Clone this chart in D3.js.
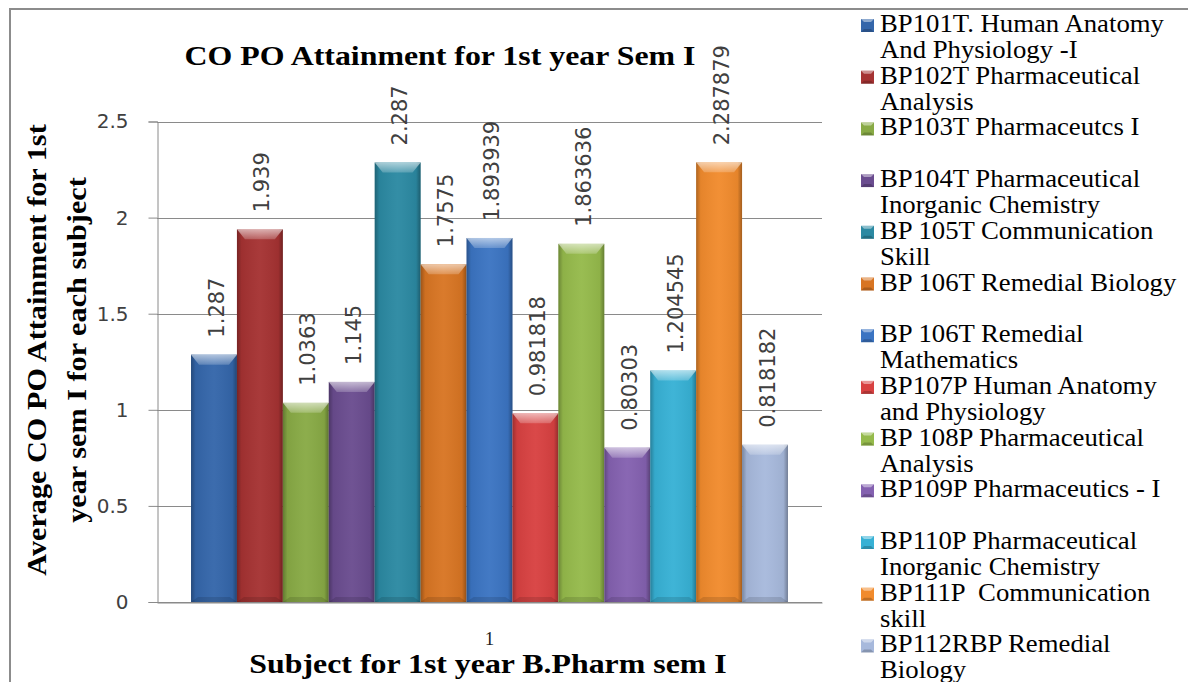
<!DOCTYPE html>
<html>
<head>
<meta charset="utf-8">
<script src="https://cdn.jsdelivr.net/npm/d3@7/dist/d3.min.js"></script>
<style>
  html, body { margin: 0; padding: 0; background: #fff; }
  svg { display: block; }
  .serif { font-family: "Liberation Serif", "Times New Roman", "DejaVu Serif", serif; }
  .sans { font-family: "DejaVu Sans", sans-serif; }
</style>
</head>
<body>
<svg id="chart" width="1188" height="682"></svg>
<script>
// ---------- data ----------
const categories = ["1"];
const subjects = [
  "BP101T. Human Anatomy\nAnd Physiology -I",
  "BP102T Pharmaceutical\nAnalysis",
  "BP103T Pharmaceutcs I",
  "BP104T Pharmaceutical\nInorganic Chemistry",
  "BP 105T Communication\nSkill",
  "BP 106T Remedial Biology",
  "BP 106T Remedial\nMathematics",
  "BP107P Human Anatomy\nand Physiology",
  "BP 108P Pharmaceutical\nAnalysis",
  "BP109P Pharmaceutics - I",
  "BP110P Pharmaceutical\nInorganic Chemistry",
  "BP111P  Communication\nskill",
  "BP112RBP Remedial\nBiology"
];
const values = [1.287, 1.939, 1.0363, 1.145, 2.287, 1.7575, 1.893939, 0.981818, 1.863636, 0.80303, 1.204545, 2.287879, 0.818182];
const valueLabels = ["1.287", "1.939", "1.0363", "1.145", "2.287", "1.7575", "1.893939", "0.981818", "1.863636", "0.80303", "1.204545", "2.287879", "0.818182"];
const colors = ["#3466aa", "#a53232", "#88aa45", "#6a4c8f", "#2b89a2", "#d87523", "#3b74c2", "#d84141", "#95ba4b", "#8461b0", "#37b1d5", "#f18b2d", "#a7b9dc"];
const yTicks = [0, 0.5, 1, 1.5, 2, 2.5];
const yTickLabels = ["0", "0.5", "1", "1.5", "2", "2.5"];
const title = "CO PO Attainment for 1st year Sem I";
const yTitle = ["Average CO PO Attainment for 1st", "year sem I for each subject"];
const xTitle = "Subject for 1st year B.Pharm sem I";

// ---------- layout ----------
const svg = d3.select("#chart");
const plot = { left: 157, right: 822, top: 121.5, bottom: 602 };

const defs = svg.append("defs");
const edge = defs.append("linearGradient").attr("id", "edge").attr("x1", 0).attr("x2", 1).attr("y1", 0).attr("y2", 0);
edge.append("stop").attr("offset", "0").attr("stop-color", "#000").attr("stop-opacity", 0.28);
edge.append("stop").attr("offset", "0.1").attr("stop-color", "#000").attr("stop-opacity", 0.05);
edge.append("stop").attr("offset", "0.5").attr("stop-color", "#fff").attr("stop-opacity", 0.04);
edge.append("stop").attr("offset", "0.9").attr("stop-color", "#000").attr("stop-opacity", 0.05);
edge.append("stop").attr("offset", "1").attr("stop-color", "#000").attr("stop-opacity", 0.32);

const bevelG = defs.append("linearGradient").attr("id", "bevel").attr("x1", 0).attr("x2", 0).attr("y1", 0).attr("y2", 1);
bevelG.append("stop").attr("offset", "0").attr("stop-color", "#fff").attr("stop-opacity", 0.6);
bevelG.append("stop").attr("offset", "1").attr("stop-color", "#fff").attr("stop-opacity", 0.2);

// outer border
svg.append("rect")
  .attr("x", 10).attr("y", 9).attr("width", 1250).attr("height", 720)
  .attr("fill", "none").attr("stroke", "#8c8c8c").attr("stroke-width", 2);

// scales
const y = d3.scaleLinear().domain([0, 2.5]).range([plot.bottom, plot.top]);
const x0 = d3.scaleBand().domain(categories).range([plot.left, plot.right]).paddingInner(0).paddingOuter(0.057);
const x1 = d3.scaleBand().domain(d3.range(subjects.length)).range([0, x0.bandwidth()]).padding(0);

// gridlines
svg.append("g").selectAll("line").data(yTicks).join("line")
  .attr("x1", plot.left).attr("x2", plot.right)
  .attr("y1", d => Math.round(y(d)) + 0.5).attr("y2", d => Math.round(y(d)) + 0.5)
  .attr("stroke", "#8a8a8a").attr("stroke-width", 1);

// y axis
const yAxis = d3.axisLeft(y).tickValues(yTicks).tickSize(9).tickPadding(20)
  .tickFormat((d, i) => yTickLabels[i]);
const gy = svg.append("g").attr("transform", `translate(${plot.left + 0.5},0)`).call(yAxis);
gy.attr("font-family", null).attr("font-size", null);
gy.select(".domain").attr("stroke", "#8a8a8a");
gy.selectAll(".tick line").attr("stroke", "#8a8a8a");
gy.selectAll(".tick text").attr("class", "sans").attr("font-size", 20).attr("fill", "#404040");

// x axis
const xAxis = d3.axisBottom(x0).tickSize(0).tickPadding(29);
const gx = svg.append("g").attr("transform", `translate(0,${plot.bottom + 0.5})`).call(xAxis);
gx.attr("font-family", null).attr("font-size", null);
gx.select(".domain").attr("stroke", "#8a8a8a");
gx.selectAll(".tick text").attr("class", "serif").attr("font-size", 19).attr("fill", "#222");

// bars
const barData = values.map((v, i) => ({ v, i, cat: categories[0] }));
const bars = svg.append("g").selectAll("g").data(barData).join("g")
  .attr("transform", d => `translate(${x0(d.cat) + x1(d.i)},0)`);
const bw = x1.bandwidth();
bars.append("rect")
  .attr("x", 0).attr("width", bw)
  .attr("y", d => y(d.v)).attr("height", d => y(0) - y(d.v))
  .attr("fill", d => colors[d.i]);
bars.append("rect")
  .attr("x", 0).attr("width", bw)
  .attr("y", d => y(d.v)).attr("height", d => y(0) - y(d.v))
  .attr("fill", "url(#edge)");
// top bevel
bars.append("path")
  .attr("d", d => {
    const t = y(d.v);
    return `M0,${t}L${bw},${t}L${bw - 8},${t + 10}L8,${t + 10}Z`;
  })
  .attr("fill", "url(#bevel)");
// bottom shade
bars.append("path")
  .attr("d", d => `M7,${y(0) - 5}L${bw - 7},${y(0) - 5}L${bw},${y(0)}L0,${y(0)}Z`)
  .attr("fill", "#000").attr("fill-opacity", 0.12);

// value labels
bars.append("text")
  .attr("class", "sans")
  .attr("transform", d => `translate(${bw / 2 + 2},${y(d.v) - 17}) rotate(-90)`)
  .attr("dy", "0.36em")
  .attr("text-anchor", "start")
  .attr("font-size", 21).attr("fill", "#404040")
  .text(d => valueLabels[d.i]);

// title
svg.append("text")
  .attr("class", "serif")
  .attr("transform", "translate(440,65) scale(1.18,1)")
  .attr("text-anchor", "middle")
  .attr("font-weight", "bold").attr("font-size", 27)
  .attr("fill", "#000")
  .text(title);

// y title
const yt = svg.append("text")
  .attr("class", "serif")
  .attr("transform", "translate(0,350) rotate(-90) scale(1.12,1)")
  .attr("text-anchor", "middle")
  .attr("font-weight", "bold").attr("font-size", 27)
  .attr("fill", "#000");
yTitle.forEach((line, i) => {
  yt.append("tspan").attr("x", 0).attr("y", 46 + i * 40).text(line);
});

// x title
svg.append("text")
  .attr("class", "serif")
  .attr("transform", "translate(488,673) scale(1.18,1)")
  .attr("text-anchor", "middle")
  .attr("font-weight", "bold").attr("font-size", 27)
  .attr("fill", "#000")
  .text(xTitle);

// legend
const legend = svg.append("g").selectAll("g").data(subjects).join("g")
  .attr("transform", (d, i) => `translate(861,${32 + i * 51.7})`);
legend.append("rect")
  .attr("x", 0).attr("y", -13).attr("width", 13).attr("height", 13)
  .attr("fill", (d, i) => colors[i]);
legend.append("path")
  .attr("d", "M0,-13L13,-13L10,-10L3,-10Z")
  .attr("fill", "#fff").attr("fill-opacity", 0.45);
legend.append("path")
  .attr("d", "M0,0L13,0L10,-3L3,-3Z")
  .attr("fill", "#000").attr("fill-opacity", 0.2);
const lt = legend.append("text")
  .attr("class", "serif")
  .attr("transform", "translate(19,0) scale(1.07,1)")
  .attr("font-size", 25).attr("fill", "#000");
lt.each(function (d) {
  const t = d3.select(this);
  d.split("\n").forEach((line, j) => {
    t.append("tspan").attr("x", 0).attr("y", j * 26).attr("xml:space", "preserve").text(line);
  });
});
</script>
</body>
</html>
